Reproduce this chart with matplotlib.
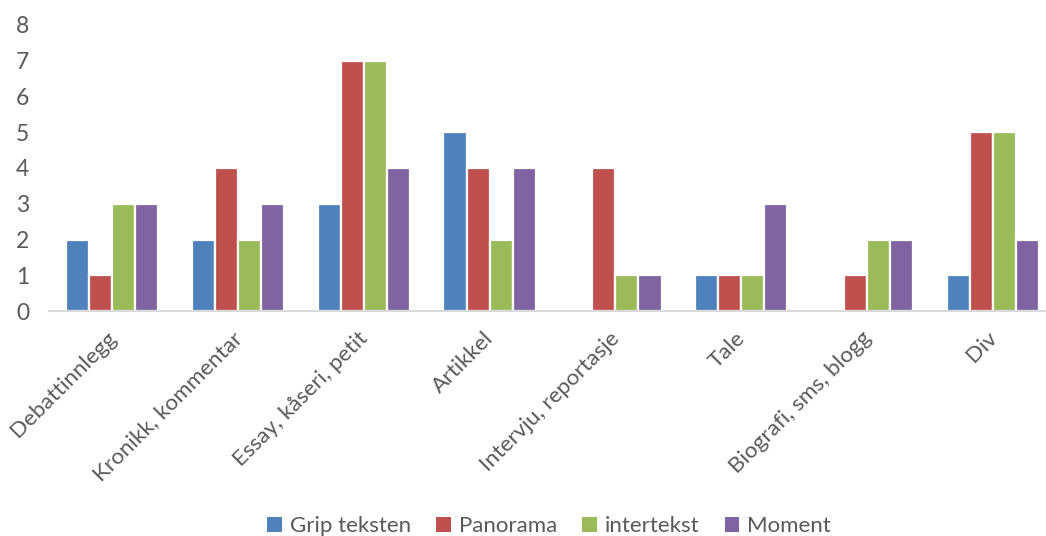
import matplotlib
matplotlib.use("Agg")
import matplotlib.pyplot as plt
import numpy as np
from matplotlib.patches import Patch
import matplotlib.transforms as mtransforms

categories = ["Debattinnlegg", "Kronikk, kommentar", "Essay, kåseri, petit", "Artikkel",
              "Intervju, reportasje", "Tale", "Biografi, sms, blogg", "Div"]
series_names = ["Grip teksten", "Panorama", "intertekst", "Moment"]
grip = [2, 2, 3, 5, 0, 1, 0, 1]
panorama = [1, 4, 7, 4, 4, 1, 1, 5]
intertekst = [3, 2, 7, 2, 1, 1, 2, 5]
moment = [3, 3, 4, 4, 1, 3, 2, 2]
colors = ["#4F81BD", "#C0504D", "#9BBB59", "#8064A2"]
yticks = [0, 1, 2, 3, 4, 5, 6, 7, 8]

plt.rcParams['font.family'] = ['Lato', 'DejaVu Sans']
textc = "#595959"

fig = plt.figure(figsize=(10.46, 5.36), dpi=100)
ax = fig.add_axes([49/1046, (536-311)/536, 1007/1046, 286/536])

x = np.arange(len(categories))
pitch = 0.183
data = [grip, panorama, intertekst, moment]
for i, (vals, c) in enumerate(zip(data, colors)):
    ax.bar(x + (i - 1.5) * pitch, vals, width=pitch, color=c, edgecolor="white",
           linewidth=1.6, zorder=3)

ax.set_xlim(-0.5, len(categories) - 0.5)
ax.set_ylim(0, 8)
ax.set_yticks(yticks)
ax.set_yticklabels([str(v) for v in yticks], fontsize=16.5, color=textc)
for lab in ax.get_yticklabels():
    lab.set_horizontalalignment('center')
ax.tick_params(axis='y', length=0, pad=19)
ax.set_xticks(x)
ax.set_xticklabels([])
ax.tick_params(axis='x', length=0)
for s in ["top", "right", "left"]:
    ax.spines[s].set_visible(False)
ax.spines["bottom"].set_color("#D9D9D9")
ax.spines["bottom"].set_linewidth(1.5)
ax.spines["bottom"].set_zorder(4)

offset = mtransforms.ScaledTranslation(-6/100, -17/100, fig.dpi_scale_trans)
for xi, cat in zip(x, categories):
    ax.text(xi, 0, cat, rotation=45, rotation_mode='anchor', ha='right', va='top',
            fontsize=16.2, color=textc, transform=ax.transData + offset)

handles = [Patch(facecolor=c, edgecolor='none') for c in colors]
fig.legend(handles, series_names, loc='center', bbox_to_anchor=(0.525, 10/536),
           ncol=4, frameon=False, fontsize=16, labelcolor=textc,
           handlelength=0.65, handleheight=0.65, handletextpad=0.35, columnspacing=1.15)

fig.savefig("out.png", dpi=100)
